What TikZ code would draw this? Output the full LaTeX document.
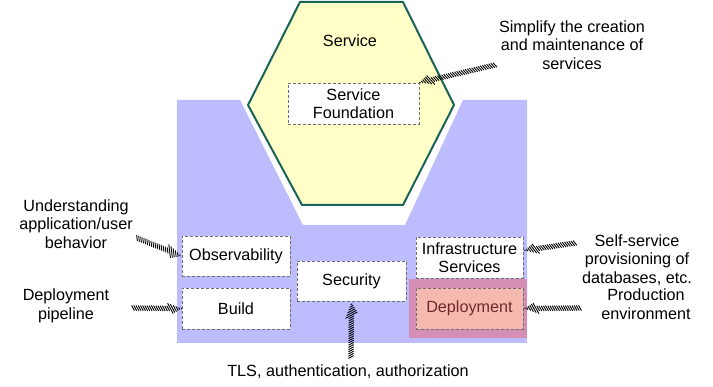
\documentclass[tikz,border=0pt]{standalone}
\usepackage{fontspec}
\setmainfont{Liberation Sans}
\usetikzlibrary{calc,decorations.markings}
\definecolor{platformBlue}{RGB}{188,188,255}
\definecolor{hexYellow}{RGB}{255,255,200}
\definecolor{hexEdge}{RGB}{25,100,88}
\definecolor{boxGray}{RGB}{110,110,110}
\definecolor{deployOuter}{RGB}{213,143,180}
\definecolor{deployInner}{RGB}{246,185,176}
\definecolor{deployText}{RGB}{110,40,40}

\tikzset{
  part/.style={draw=boxGray,line width=0.8pt,dash pattern=on 3pt off 2pt,fill=white,align=center,inner sep=0pt},
  note/.style={align=center},
  hatched/.style={decoration={markings,mark=between positions 0 and 1 step 2.2pt with {
    \pgfmathsetmacro{\rest}{\pgfdecoratedpathlength-\pgfkeysvalueof{/pgf/decoration/mark info/distance from start}}
    \pgfmathsetmacro{\half}{\rest<13 ? max(0.6,\rest*0.46) : 2.6}
    \draw[line width=0.9pt,black] (-0.55*\half,-\half) -- (0.55*\half,\half);}},postaction={decorate}}
}

\begin{document}
\begin{tikzpicture}[x=1pt,y=-1pt,font=\fontsize{16.2}{18.5}\selectfont]
\useasboundingbox (0,0) rectangle (713,387);
\fill[platformBlue] (177,100) -- (240,100) -- (303,225) -- (405,225) -- (463,100) -- (527,100) -- (527,343) -- (177,343) -- cycle;
\draw[hexEdge,fill=hexYellow,line width=2pt,line join=round] (300,2) -- (403,2) -- (454,105) -- (403,205) -- (302,205) -- (248,105) -- cycle;
\node (service) at (350,41) {Service};
\node[part,minimum width=131,minimum height=41] (foundation) at (353.5,103.5) {Service\\Foundation};
\node[part,minimum width=108,minimum height=40] (obs) at (236,256) {Observability};
\node[part,minimum width=108,minimum height=41] (build) at (236,308.5) {Build};
\node[part,minimum width=109,minimum height=40] (security) at (351.5,281) {Security};
\node[part,minimum width=107,minimum height=41] (infra) at (469.5,257.5) {Infrastructure\\Services};
\node[fill=deployOuter,minimum width=118,minimum height=59,inner sep=0pt] (deployArea) at (468,308.5) {};
\node[part,fill=deployInner,text=deployText,minimum width=107,minimum height=41] (deploy) at (469.5,308.5) {Deployment};

\node[note] (simplifyLbl) at (572,45) {Simplify the creation\\and maintenance of\\services};
\node[note] (obsLbl) at (76,224) {Understanding\\application/user\\behavior};
\node[note] (buildLbl) at (66,306) {Deployment\\pipeline};
\node[note] (infraLbl) at (637,260) {Self-service\\provisioning of\\databases, etc.};
\node[note] (deployLbl) at (646,304) {Production\\environment};
\node[note] (securityLbl) at (348,372) {TLS, authentication, authorization};

\coordinate (simplifyTail) at (495,65);
\coordinate (obsTail) at (137,238);
\coordinate (buildTail) at (133,308);
\coordinate (infraTail) at (575,243);
\coordinate (deployTail) at (580,308);
\coordinate (securityTail) at (351,357);
\path[hatched] (simplifyTail) -- (foundation.north east);
\path[hatched] (obsTail) -- (obs.west);
\path[hatched] (buildTail) -- (build.west);
\path[hatched] (infraTail) -- ($(infra.east)+(1,-7)$);
\path[hatched] (deployTail) -- ($(deploy.east)+(1,0)$);
\path[hatched] (securityTail) -- ($(security.south)+(0,1)$);
\end{tikzpicture}
\end{document}
